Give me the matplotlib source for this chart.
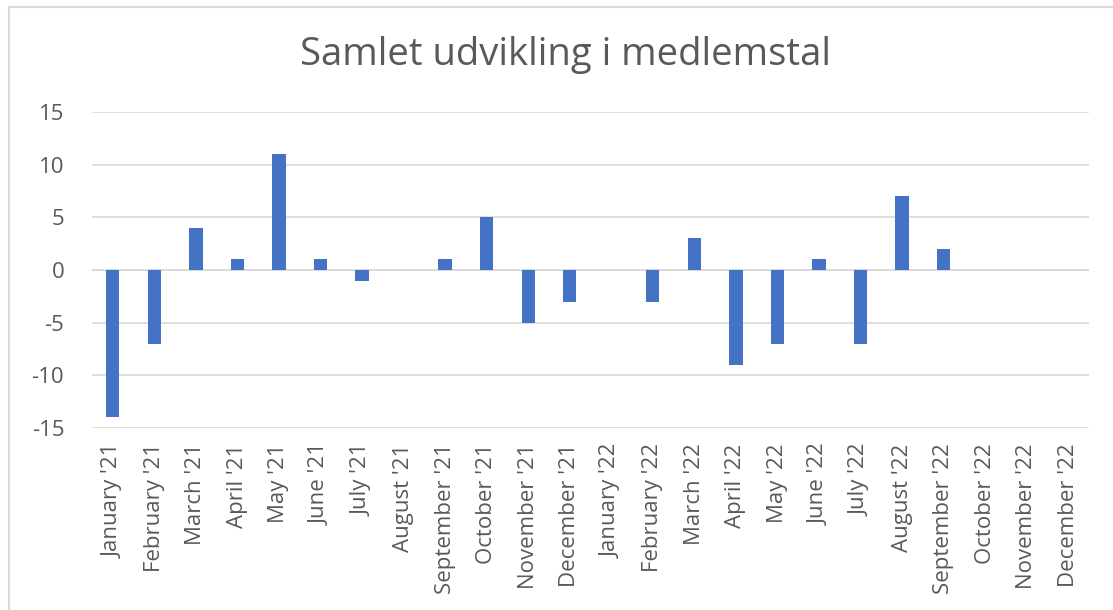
import matplotlib
matplotlib.use("Agg")
import matplotlib.pyplot as plt
from matplotlib.patches import Rectangle

months = ["January '21", "February '21", "March '21", "April '21", "May '21", "June '21",
          "July '21", "August '21", "September '21", "October '21", "November '21", "December '21",
          "January '22", "February '22", "March '22", "April '22", "May '22", "June '22",
          "July '22", "August '22", "September '22", "October '22", "November '22", "December '22"]
values = [-14, -7, 4, 1, 11, 1, -1, 0, 1, 5, -5, -3,
          0, -3, 3, -9, -7, 1, -7, 7, 2, 0, 0, 0]
yticks = [-15, -10, -5, 0, 5, 10, 15]
title = "Samlet udvikling i medlemstal"

plt.rcParams['font.family'] = ['Open Sans', 'DejaVu Sans']
W, H = 1113, 610
fig = plt.figure(figsize=(W/100, H/100), dpi=100)
fig.patches.append(Rectangle((9/W, -0.1), 2, 1.1 - 7/H, transform=fig.transFigure,
                             fill=False, edgecolor='#D9D9D9', linewidth=1.5))

ax = fig.add_axes([92/W, 1 - 428/H, (1089-92)/W, (428-112)/H])
x = list(range(len(months)))
ax.bar(x, values, width=0.32, color='#4472C4', zorder=3)
ax.set_xlim(-0.5, len(months) - 0.5)
ax.set_ylim(-15, 15)
ax.set_yticks(yticks)
ax.set_yticklabels([str(v) for v in yticks])
ax.set_xticks(x)
ax.set_xticklabels(months, rotation=90, va='top', ha='center')
ax.grid(axis='y', color='#D9D9D9', linewidth=1.2, zorder=0)
ax.axhline(0, color='#D9D9D9', linewidth=1.2, zorder=1)
for s in ax.spines.values():
    s.set_visible(False)
ax.tick_params(axis='both', length=0, labelsize=16, colors='#595959')
ax.tick_params(axis='x', pad=11)
ax.tick_params(axis='y', pad=20)
fig.text(566/W, 1 - 55/H, title, ha='center', va='center', fontsize=27.5, color='#595959')

fig.savefig("out.png", dpi=100)
